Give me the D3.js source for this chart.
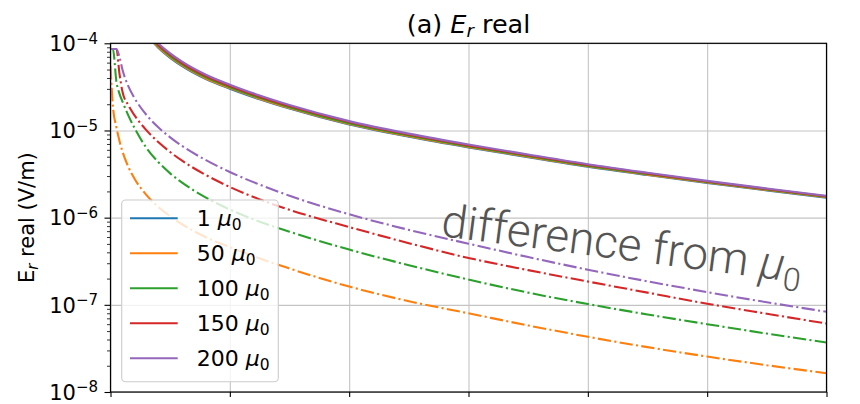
<!DOCTYPE html>
<html>
<head>
<meta charset="utf-8">
<script src="https://cdn.jsdelivr.net/npm/d3@7"></script>
<style>
  body { margin: 0; background: #fff; }
  svg { display: block; }
  text { font-family: "DejaVu Sans", sans-serif; }
</style>
</head>
<body>
<svg id="chart" width="860" height="404"></svg>
<script>
// Radial field (real part) for several relative permeabilities.
// Distances along the profile for the field curves and for the difference curves.
const fieldDistance = [0.3, 0.4, 0.5, 0.6, 0.8, 1, 1.25, 1.5, 2, 2.5, 3, 3.5, 4, 4.5, 5, 5.5, 6];
const diffDistance = [0, 0.02, 0.05, 0.075, 0.1, 0.15, 0.2, 0.3, 0.4, 0.5, 0.6, 0.8, 1, 1.25, 1.5, 2, 2.5, 3, 3.5, 4, 4.5, 5, 5.5, 6];

const seriesLabels = ["1", "50", "100", "150", "200"];
const seriesColors = ["#1f77b4", "#ff7f0e", "#2ca02c", "#d62728", "#9467bd"];

// E_r real (V/m)
const field1   = [1.2685e-4, 8.910e-5, 6.816e-5, 5.486e-5, 3.893e-5, 3.016e-5, 2.281e-5, 1.7815e-5, 1.1706e-5, 8.476e-6, 6.397e-6, 4.947e-6, 3.847e-6, 3.084e-6, 2.500e-6, 2.053e-6, 1.697e-6];
const field50  = [1.2868e-4, 9.043e-5, 6.920e-5, 5.570e-5, 3.953e-5, 3.062e-5, 2.315e-5, 1.808e-5, 1.1868e-5, 8.586e-6, 6.477e-6, 5.005e-6, 3.890e-6, 3.117e-6, 2.526e-6, 2.073e-6, 1.713e-6];
const field100 = [1.332e-4, 9.345e-5, 7.138e-5, 5.738e-5, 4.063e-5, 3.140e-5, 2.371e-5, 1.8505e-5, 1.2136e-5, 8.761e-6, 6.592e-6, 5.085e-6, 3.949e-6, 3.162e-6, 2.560e-6, 2.100e-6, 1.734e-6];
const field150 = [1.3695e-4, 9.646e-5, 7.382e-5, 5.936e-5, 4.201e-5, 3.241e-5, 2.443e-5, 1.9045e-5, 1.2486e-5, 8.986e-6, 6.742e-6, 5.197e-6, 4.032e-6, 3.222e-6, 2.603e-6, 2.132e-6, 1.758e-6];
const field200 = [1.42e-4, 1.0e-4, 7.65e-5, 6.15e-5, 4.35e-5, 3.35e-5, 2.52e-5, 1.96e-5, 1.28e-5, 9.2e-6, 6.9e-6, 5.3e-6, 4.1e-6, 3.27e-6, 2.64e-6, 2.16e-6, 1.78e-6];

// Difference from the 1 mu_0 field
const diff50  = [5.5e-5, 1.9e-5, 1.08e-5, 7.6e-6, 5.76e-6, 3.81e-6, 2.82e-6, 1.825e-6, 1.33e-6, 1.036e-6, 8.4e-7, 5.95e-7, 4.6e-7, 3.4e-7, 2.61e-7, 1.62e-7, 1.1e-7, 8.0e-8, 5.8e-8, 4.3e-8, 3.27e-8, 2.55e-8, 2.03e-8, 1.64e-8];
const diff100 = [8.6e-5, 8.6e-5, 3.6e-5, 2.65e-5, 2.15e-5, 1.48e-5, 1.075e-5, 6.35e-6, 4.35e-6, 3.22e-6, 2.52e-6, 1.7e-6, 1.24e-6, 8.97e-7, 6.9e-7, 4.3e-7, 2.85e-7, 1.95e-7, 1.38e-7, 1.02e-7, 7.75e-8, 6.0e-8, 4.68e-8, 3.69e-8];
const diff150 = [8.6e-5, 8.6e-5, 8.6e-5, 4.5e-5, 2.8e-5, 1.94e-5, 1.5e-5, 1.01e-5, 7.36e-6, 5.66e-6, 4.5e-6, 3.08e-6, 2.25e-6, 1.62e-6, 1.23e-6, 7.8e-7, 5.1e-7, 3.45e-7, 2.5e-7, 1.85e-7, 1.38e-7, 1.03e-7, 7.9e-8, 6.1e-8];
const diff200 = [8.6e-5, 8.6e-5, 8.6e-5, 7.0e-5, 5.0e-5, 3.2e-5, 2.37e-5, 1.515e-5, 1.09e-5, 8.34e-6, 6.64e-6, 4.57e-6, 3.34e-6, 2.39e-6, 1.785e-6, 1.094e-6, 7.24e-7, 5.03e-7, 3.53e-7, 2.53e-7, 1.86e-7, 1.40e-7, 1.07e-7, 8.33e-8];

const xTicks = [0, 1, 2, 3, 4, 5, 6];
const yTickExponents = [-8, -7, -6, -5, -4];

const fields = [field1, field50, field100, field150, field200];
const diffs = [null, diff50, diff100, diff150, diff200];

const margin = { left: 110.5, right: 33.5, top: 43.3, bottom: 12 };
const W = 860, H = 404;
const x0 = margin.left, x1 = W - margin.right, y0 = margin.top, y1 = H - margin.bottom;

const svg = d3.select("#chart");
const x = d3.scaleLinear().domain([0, 6]).range([x0, x1]);
const y = d3.scaleLog().domain([1e-8, 1e-4]).range([y1, y0]);

svg.append("defs").append("clipPath").attr("id", "plot-clip")
  .append("rect").attr("x", x0).attr("y", y0).attr("width", x1 - x0).attr("height", y1 - y0);

// grid
const grid = svg.append("g").attr("class", "grid");
grid.append("g").attr("transform", `translate(0,${y1})`)
  .call(d3.axisBottom(x).tickValues(xTicks).tickSize(-(y1 - y0)).tickFormat(""))
  .call(g => g.select(".domain").remove());
grid.append("g").attr("transform", `translate(${x0},0)`)
  .call(d3.axisLeft(y).tickValues(yTickExponents.map(e => Math.pow(10, e))).tickSize(-(x1 - x0)).tickFormat(""))
  .call(g => g.select(".domain").remove());
grid.selectAll("line").attr("stroke", "#c4c4c4").attr("stroke-width", 1.1);

const plot = svg.append("g").attr("clip-path", "url(#plot-clip)");

const line = d3.line().curve(d3.curveMonotoneX);

// difference curves (dash-dot)
diffs.forEach((vals, i) => {
  if (!vals) return;
  plot.append("path")
    .attr("d", line(diffDistance.map((d, k) => [x(d), y(vals[k])])))
    .attr("fill", "none")
    .attr("stroke", seriesColors[i])
    .attr("stroke-width", 2.1)
    .attr("stroke-dasharray", "13.3,3.3,2.1,3.3");
});

// field curves (solid)
fields.forEach((vals, i) => {
  plot.append("path")
    .attr("d", line(fieldDistance.map((d, k) => [x(d), y(vals[k])])))
    .attr("fill", "none")
    .attr("stroke", seriesColors[i])
    .attr("stroke-width", 2.1);
});

// axes ticks
const xAxis = svg.append("g").attr("transform", `translate(0,${y1})`)
  .call(d3.axisBottom(x).tickValues(xTicks).tickSize(5).tickFormat(""));
xAxis.select(".domain").remove();
xAxis.selectAll("line").attr("stroke", "#000").attr("stroke-width", 1.1);

const minorVals = [];
for (let e = -8; e < -4; e++) for (let m = 2; m <= 9; m++) minorVals.push(m * Math.pow(10, e));
const yMinor = svg.append("g").attr("transform", `translate(${x0},0)`)
  .call(d3.axisLeft(y).tickValues(minorVals).tickSize(3.5).tickFormat(""));
yMinor.select(".domain").remove();
yMinor.selectAll("line").attr("stroke", "#000").attr("stroke-width", 0.8);

const yMajor = svg.append("g").attr("transform", `translate(${x0},0)`)
  .call(d3.axisLeft(y).tickValues(yTickExponents.map(e => Math.pow(10, e))).tickSize(6).tickFormat(""));
yMajor.select(".domain").remove();
yMajor.selectAll("line").attr("stroke", "#000").attr("stroke-width", 1.1);

// y tick labels as 10^n
yTickExponents.forEach(e => {
  const t = svg.append("text")
    .attr("x", x0 - 12.5).attr("y", y(Math.pow(10, e)) + 7.8)
    .attr("text-anchor", "end").attr("font-size", 21).attr("fill", "#000");
  t.append("tspan").text("10");
  t.append("tspan").attr("font-size", 15).attr("dy", -7.5).text("\u2212" + Math.abs(e));
});

// frame
svg.append("rect").attr("x", x0).attr("y", y0).attr("width", x1 - x0).attr("height", y1 - y0)
  .attr("fill", "none").attr("stroke", "#000").attr("stroke-width", 1.2);

// title
const title = svg.append("text").attr("x", (x0 + x1) / 2).attr("y", 33)
  .attr("text-anchor", "middle").attr("font-size", 25.5).attr("fill", "#000");
title.append("tspan").text("(a) ");
title.append("tspan").attr("font-style", "italic").text("E");
title.append("tspan").attr("font-style", "italic").attr("font-size", 18).attr("dy", 4).text("r");
title.append("tspan").attr("dy", -4).text(" real");

// y label
const ylab = svg.append("text")
  .attr("transform", `translate(34,${(y0 + y1) / 2}) rotate(-90)`)
  .attr("text-anchor", "middle").attr("font-size", 21).attr("fill", "#000");
ylab.append("tspan").text("E");
ylab.append("tspan").attr("font-style", "italic").attr("font-size", 15).attr("dy", 4).text("r");
ylab.append("tspan").attr("dy", -4).text(" real (V/m)");

// annotation
const noteFont = "Roboto, 'Liberation Sans', sans-serif";
const note = svg.append("text")
  .attr("transform", "translate(440,236) rotate(7.4)")
  .attr("font-family", noteFont)
  .attr("font-weight", 300)
  .attr("font-size", 46).attr("fill", "#555");
note.append("tspan").attr("font-family", noteFont).text("difference from ");
note.append("tspan").attr("font-family", noteFont).attr("font-style", "italic").text("\u03bc");
note.append("tspan").attr("font-family", noteFont).attr("font-size", 32).attr("dy", 9).text("0");

// legend
const lg = svg.append("g");
lg.append("rect").attr("x", 121.7).attr("y", 200).attr("width", 156.6).attr("height", 181.7)
  .attr("rx", 4).attr("fill", "#fff").attr("fill-opacity", 0.8)
  .attr("stroke", "#cccccc").attr("stroke-width", 1.1);
seriesLabels.forEach((lab, i) => {
  const cy = 218.3 + i * 35;
  lg.append("line").attr("x1", 130).attr("x2", 177.7).attr("y1", cy).attr("y2", cy)
    .attr("stroke", seriesColors[i]).attr("stroke-width", 2.1);
  const t = lg.append("text").attr("x", 196.7).attr("y", cy + 8).attr("font-size", 22).attr("fill", "#000");
  t.append("tspan").text(lab + " ");
  t.append("tspan").attr("font-style", "italic").text("\u03bc");
  t.append("tspan").attr("font-size", 15.5).attr("dy", 4).text("0");
});
</script>
</body>
</html>
